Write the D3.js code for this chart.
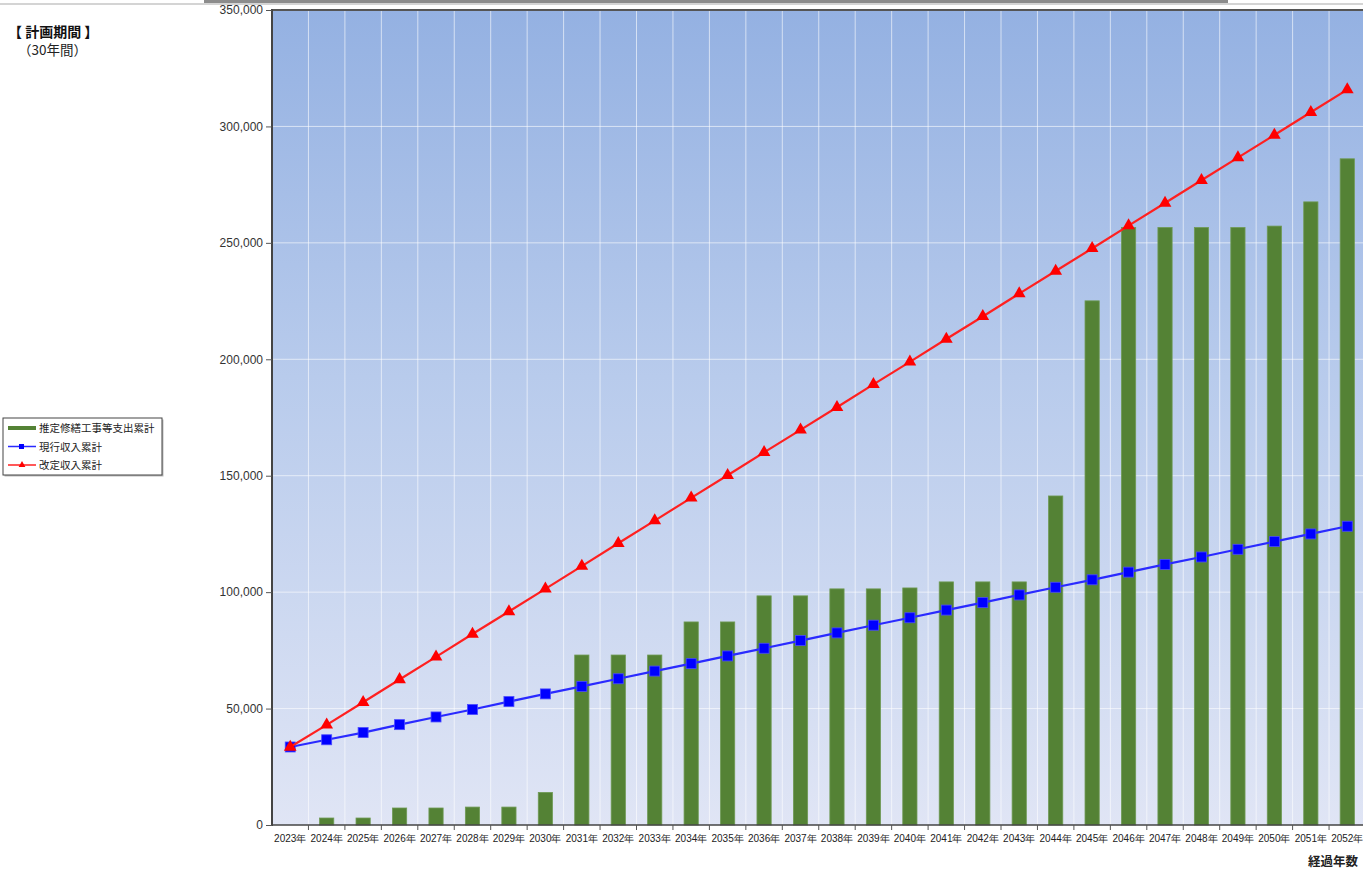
<!DOCTYPE html>
<html>
<head>
<meta charset="utf-8">
<script src="https://cdn.jsdelivr.net/npm/d3@7"></script>
<style>
  body { margin: 0; background: #fff; overflow: hidden; }
  svg { display: block; font-family: "Noto Sans CJK JP", "Noto Sans", sans-serif; }
</style>
</head>
<body>
<div id="chart"></div>
<script>
// data
var years = ["2023", "2024", "2025", "2026", "2027", "2028", "2029", "2030", "2031", "2032",
    "2033", "2034", "2035", "2036", "2037", "2038", "2039", "2040", "2041", "2042",
    "2043", "2044", "2045", "2046", "2047", "2048", "2049", "2050", "2051", "2052"];

// 推定修繕工事等支出累計 (bars)
var repairCost = [0, 3000, 3000, 7300, 7300, 7700, 7700, 14000, 73000, 73000,
    73000, 87200, 87200, 98400, 98400, 101400, 101400, 101800, 104400, 104400,
    104400, 141300, 225100, 256600, 256600, 256600, 256600, 257200, 267600, 286100];

// 現行収入累計 (blue)
var currentIncome = [33500, 36600, 39700, 43100, 46400, 49600, 53000, 56300, 59500, 62800,
    66100, 69300, 72600, 75900, 79200, 82500, 85800, 89000, 92300, 95500,
    98800, 102100, 105300, 108600, 111900, 115100, 118400, 121700, 125000, 128300];

// 改定収入累計 (red)
var revisedIncome = [33500, 43000, 52700, 62500, 72200, 82000, 91700, 101400, 111200, 121000,
    130700, 140500, 150200, 160000, 169700, 179400, 189200, 198900, 208700, 218400,
    228200, 237900, 247600, 257400, 267100, 276900, 286600, 296300, 306100, 315800];

var yTicks = [0, 50000, 100000, 150000, 200000, 250000, 300000, 350000];

var legendNames = ["推定修繕工事等支出累計", "現行収入累計", "改定収入累計"];

var W = 1363, H = 870;
var plotLeft = 272, plotTop = 10, plotBottom = 825, plotRight = 272 + 30 * 36.45;

var svg = d3.select("#chart").append("svg")
    .attr("width", W)
    .attr("height", H);

var defs = svg.append("defs");
var grad = defs.append("linearGradient")
    .attr("id", "bg")
    .attr("x1", 0).attr("y1", 0).attr("x2", 0).attr("y2", 1);
grad.append("stop").attr("offset", "0%").attr("stop-color", "rgb(148,177,226)");
grad.append("stop").attr("offset", "45%").attr("stop-color", "rgb(184,203,236)");
grad.append("stop").attr("offset", "100%").attr("stop-color", "rgb(224,229,245)");

// window chrome at the very top
svg.append("rect").attr("x", 0).attr("y", 3).attr("width", W).attr("height", 2).attr("fill", "#d4d4d4");
svg.append("rect").attr("x", 204).attr("y", 0).attr("width", 1024).attr("height", 3).attr("fill", "#8c8c8c");

var x = d3.scaleBand()
    .domain(years)
    .range([plotLeft, plotRight]);

var xBar = d3.scaleBand()
    .domain(years)
    .range([plotLeft, plotRight])
    .paddingInner(0.61)
    .paddingOuter(0.305);

var y = d3.scaleLinear()
    .domain([0, 350000])
    .range([plotBottom, plotTop]);

// plot background
svg.append("rect")
    .attr("x", plotLeft).attr("y", plotTop)
    .attr("width", plotRight - plotLeft).attr("height", plotBottom - plotTop)
    .attr("fill", "url(#bg)");

// grid lines
svg.append("g")
    .selectAll("line")
    .data(years.slice(1))
    .join("line")
    .attr("x1", d => x(d)).attr("x2", d => x(d))
    .attr("y1", plotTop).attr("y2", plotBottom)
    .attr("stroke", "#fff")
    .attr("stroke-opacity", 0.6);

svg.append("g")
    .selectAll("line")
    .data(yTicks.slice(1, -1))
    .join("line")
    .attr("x1", plotLeft).attr("x2", plotRight)
    .attr("y1", d => y(d)).attr("y2", d => y(d))
    .attr("stroke", "#fff")
    .attr("stroke-opacity", 0.6);

// bars
svg.append("g")
    .selectAll("rect")
    .data(repairCost)
    .join("rect")
    .attr("x", (d, i) => xBar(years[i]))
    .attr("y", d => y(d))
    .attr("width", xBar.bandwidth())
    .attr("height", d => plotBottom - y(d))
    .attr("fill", "#548235")
    .attr("stroke", "#6f9a55")
    .attr("stroke-width", 0.8);

// lines
var line = d3.line()
    .x((d, i) => x(years[i]) + x.bandwidth() / 2)
    .y(d => y(d));

svg.append("path")
    .datum(currentIncome)
    .attr("fill", "none")
    .attr("stroke", "#2a2aff")
    .attr("stroke-width", 2.2)
    .attr("d", line);

svg.append("g")
    .selectAll("rect")
    .data(currentIncome)
    .join("rect")
    .attr("x", (d, i) => x(years[i]) + x.bandwidth() / 2 - 5)
    .attr("y", d => y(d) - 5)
    .attr("width", 10)
    .attr("height", 10)
    .attr("fill", "#0000ff")
    .attr("stroke", "#4a4aff")
    .attr("stroke-width", 0.8);

svg.append("path")
    .datum(revisedIncome)
    .attr("fill", "none")
    .attr("stroke", "#ff2020")
    .attr("stroke-width", 2.2)
    .attr("d", line);

svg.append("g")
    .selectAll("path")
    .data(revisedIncome)
    .join("path")
    .attr("transform", (d, i) => "translate(" + (x(years[i]) + x.bandwidth() / 2) + "," + y(d) + ")")
    .attr("d", d3.symbol().type(d3.symbolTriangle).size(70))
    .attr("fill", "#ff0000");

// axes frame
svg.append("line")
    .attr("x1", plotLeft).attr("x2", plotRight)
    .attr("y1", plotTop).attr("y2", plotTop)
    .attr("stroke", "#555").attr("stroke-width", 2);
svg.append("line")
    .attr("x1", plotLeft).attr("x2", plotLeft)
    .attr("y1", plotTop - 1).attr("y2", plotBottom + 1)
    .attr("stroke", "#444").attr("stroke-width", 2);
svg.append("line")
    .attr("x1", plotLeft).attr("x2", plotRight)
    .attr("y1", plotBottom).attr("y2", plotBottom)
    .attr("stroke", "#444").attr("stroke-width", 1.5);

// y axis
var yAxis = svg.append("g")
    .attr("transform", "translate(" + plotLeft + ",0)")
    .call(d3.axisLeft(y).tickValues(yTicks).tickSize(6).tickPadding(3).tickFormat(d3.format(",")));
yAxis.select(".domain").remove();
yAxis.selectAll("line").attr("stroke", "#555");
yAxis.selectAll("text")
    .attr("fill", "#333")
    .style("font-size", "12px")
    .style("font-family", "'Liberation Sans', Arial, sans-serif");

// x axis
var xAxis = svg.append("g")
    .attr("transform", "translate(0," + plotBottom + ")")
    .call(d3.axisBottom(x).tickSize(0).tickPadding(10).tickFormat(d => d + "年"));
xAxis.select(".domain").remove();
xAxis.selectAll("text")
    .attr("fill", "#222")
    .style("font-size", "10px");

svg.append("g")
    .selectAll("line")
    .data(years.slice(1))
    .join("line")
    .attr("x1", d => x(d)).attr("x2", d => x(d))
    .attr("y1", plotBottom).attr("y2", plotBottom + 5)
    .attr("stroke", "#555");

// axis title
svg.append("text")
    .attr("x", 1308).attr("y", 866)
    .attr("fill", "#222")
    .style("font-size", "12.5px")
    .style("font-weight", "bold")
    .text("経過年数");

// period note
svg.append("text")
    .attr("x", 8).attr("y", 37)
    .attr("fill", "#111")
    .style("font-size", "14px")
    .style("font-weight", "bold")
    .text("【 計画期間 】");
svg.append("text")
    .attr("x", 18).attr("y", 55)
    .attr("fill", "#222")
    .style("font-size", "13.5px")
    .text("（30年間）");

// legend
var lg = svg.append("g").attr("transform", "translate(3,418)");
lg.append("rect")
    .attr("x", 1.5).attr("y", 1.5)
    .attr("width", 159).attr("height", 57)
    .attr("fill", "#bbb");
lg.append("rect")
    .attr("width", 159).attr("height", 57)
    .attr("fill", "#fff")
    .attr("stroke", "#444");

var legendColors = ["#548235", "#2a2aff", "#ff2020"];
legendNames.forEach(function (name, i) {
    var ly = 10 + i * 18.5;
    lg.append("line")
        .attr("x1", 5).attr("x2", 33)
        .attr("y1", ly).attr("y2", ly)
        .attr("stroke", legendColors[i])
        .attr("stroke-width", i === 0 ? 4 : 1.5);
    if (i === 1) {
        lg.append("rect").attr("x", 16).attr("y", ly - 2.5).attr("width", 5).attr("height", 5).attr("fill", "#0000ff");
    }
    if (i === 2) {
        lg.append("path")
            .attr("transform", "translate(19," + ly + ")")
            .attr("d", d3.symbol().type(d3.symbolTriangle).size(20))
            .attr("fill", "#ff0000");
    }
    lg.append("text")
        .attr("x", 36).attr("y", ly + 4)
        .attr("fill", "#222")
        .style("font-size", "10.5px")
        .text(name);
});
</script>
</body>
</html>
